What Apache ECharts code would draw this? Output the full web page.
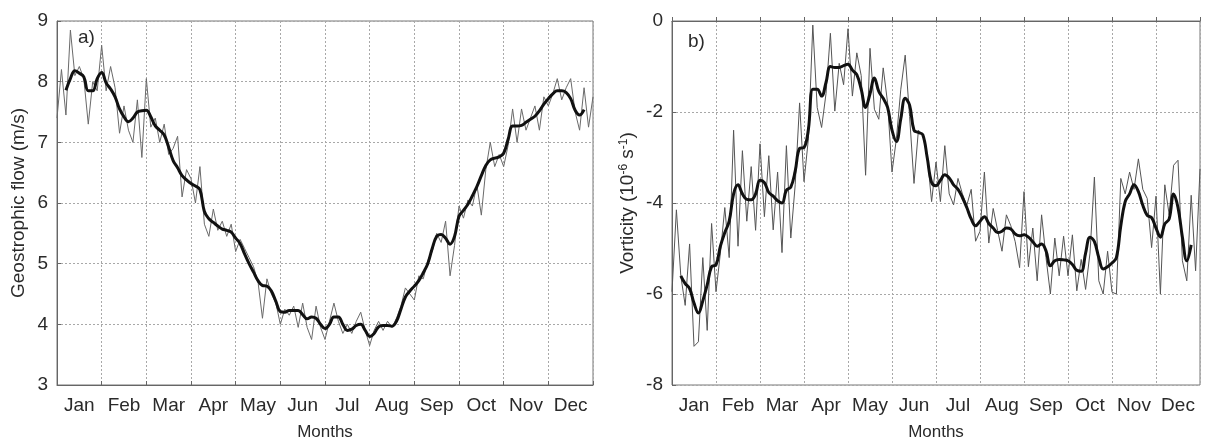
<!DOCTYPE html>
<html><head><meta charset="utf-8">
<script src="https://cdn.jsdelivr.net/npm/echarts@6/dist/echarts.min.js"></script>
<style>html,body{margin:0;padding:0;background:#fff}#c{width:1205px;height:446px}</style>
</head><body><div id="c"></div>
<script>
// ---------- data ----------
const monthLabels = ['Jan','Feb','Mar','Apr','May','Jun','Jul','Aug','Sep','Oct','Nov','Dec'];
const stepMonths = 0.1;           // spacing of the sampled values, in months
const thinStart = 0;              // first sample of the thin (daily) curves, month position
const thickStart = 0.2;           // first sample of the thick (smoothed) curves

// a) Geostrophic flow (m/s)
const flowThin = [
 7.40,8.20,7.45,8.85,8.10,8.25,8.05,7.30,8.00,7.85,
 8.60,7.85,8.25,7.90,7.15,7.60,7.20,7.00,7.70,6.75,
 8.05,7.25,7.40,7.00,7.30,6.80,6.90,7.10,6.10,6.55,
 6.40,6.00,6.60,5.65,5.45,5.90,5.55,5.70,5.45,5.65,
 5.20,5.40,5.25,5.10,4.95,4.70,4.10,4.75,4.50,4.35,
 4.00,4.25,4.15,4.30,3.95,4.35,3.95,3.75,4.30,3.95,
 3.75,4.05,4.35,4.05,3.85,4.00,3.85,4.05,4.20,3.90,
 3.65,3.90,4.05,3.90,4.05,3.95,4.10,4.30,4.60,4.50,
 4.40,4.80,4.75,5.05,5.20,5.50,5.35,5.70,4.80,5.30,
 5.95,5.75,6.05,5.95,6.30,5.80,6.55,7.00,6.60,6.80,
 6.60,6.95,7.55,7.00,7.55,7.20,7.40,7.60,7.20,7.75,
 7.60,7.80,8.05,7.70,7.90,8.05,7.50,7.20,7.90,7.25,
 7.75];
const flowThick = [
 7.86,8.05,8.18,8.14,8.08,7.85,7.85,8.05,8.15,7.98,
 7.88,7.75,7.55,7.42,7.34,7.40,7.50,7.52,7.53,7.42,
 7.27,7.20,7.12,6.92,6.70,6.58,6.45,6.38,6.32,6.28,
 6.22,5.86,5.74,5.68,5.62,5.57,5.55,5.52,5.42,5.33,
 5.16,5.00,4.86,4.72,4.64,4.63,4.55,4.38,4.21,4.20,
 4.23,4.23,4.23,4.16,4.09,4.12,4.10,4.00,3.93,4.00,
 4.12,4.12,4.00,3.90,3.92,3.98,4.00,3.90,3.80,3.85,
 3.96,3.98,3.98,3.97,4.05,4.25,4.45,4.55,4.63,4.72,
 4.85,5.00,5.25,5.45,5.48,5.42,5.32,5.45,5.78,5.88,
 5.98,6.12,6.27,6.45,6.62,6.71,6.74,6.76,6.82,7.05,
 7.27,7.27,7.28,7.33,7.38,7.43,7.52,7.63,7.72,7.80,
 7.85,7.85,7.82,7.72,7.53,7.45,7.54];

// b) Vorticity (10^-6 s^-1)
const vortThin = [
 -5.95,-4.15,-5.60,-6.25,-4.90,-7.15,-7.05,-5.20,-6.80,-4.45,
 -5.95,-5.10,-4.10,-5.20,-2.40,-4.95,-2.85,-4.40,-3.20,-4.60,
 -2.70,-4.30,-2.96,-4.59,-3.32,-5.09,-2.74,-4.77,-3.60,-1.80,
 -3.53,-2.59,-0.09,-1.90,-2.34,-1.60,-0.27,-1.98,-0.93,-1.40,
 -0.17,-1.65,-0.70,-1.20,-3.39,-0.60,-1.94,-2.16,-1.03,-1.80,
 -3.32,-2.59,-1.50,-0.75,-2.10,-3.57,-2.40,-2.50,-2.96,-3.97,
 -3.10,-3.97,-2.74,-3.80,-4.04,-3.46,-3.80,-4.05,-3.70,-4.84,
 -4.62,-3.32,-4.88,-4.12,-4.60,-5.06,-4.26,-4.50,-4.85,-5.42,
 -3.75,-5.40,-4.55,-5.71,-4.26,-5.20,-6.00,-4.77,-5.60,-4.73,
 -5.60,-4.70,-5.93,-5.24,-5.90,-5.10,-3.43,-5.71,-6.00,-5.06,
 -5.96,-6.00,-3.46,-3.80,-3.32,-3.70,-3.03,-3.70,-3.90,-4.98,
 -3.85,-6.00,-3.60,-4.26,-3.17,-3.06,-5.27,-5.71,-3.83,-5.49,
 -3.25];
const vortThick = [
 -5.60,-5.77,-5.88,-6.20,-6.42,-6.15,-5.80,-5.40,-5.36,-4.95,
 -4.65,-4.40,-3.80,-3.60,-3.80,-3.92,-3.93,-3.80,-3.50,-3.55,
 -3.77,-3.85,-3.95,-4.00,-3.72,-3.65,-3.30,-2.80,-2.78,-2.38,
 -1.50,-1.50,-1.65,-1.35,-1.00,-1.02,-1.02,-0.98,-0.95,-1.08,
 -1.18,-1.50,-1.90,-1.60,-1.25,-1.55,-1.70,-1.90,-2.40,-2.65,
 -2.15,-1.70,-1.85,-2.40,-2.45,-2.50,-3.00,-3.55,-3.62,-3.50,
 -3.38,-3.45,-3.60,-3.70,-3.88,-4.10,-4.35,-4.50,-4.40,-4.30,
 -4.45,-4.55,-4.65,-4.62,-4.55,-4.57,-4.68,-4.72,-4.70,-4.75,
 -4.85,-4.95,-4.90,-5.05,-5.38,-5.27,-5.24,-5.25,-5.27,-5.35,
 -5.48,-5.50,-5.10,-4.75,-4.85,-5.20,-5.45,-5.40,-5.32,-5.20,
 -4.50,-3.97,-3.80,-3.60,-3.75,-4.05,-4.27,-4.32,-4.55,-4.75,
 -4.46,-4.35,-3.80,-4.10,-4.75,-5.27,-4.92];

const flowAxis = {min: 3, max: 9, interval: 1};
const vortAxis = {min: -8, max: 0, interval: 2};

// ---------- chart ----------
function pairs(arr, start) {
  return arr.map((v, i) => [Math.round((start + i * stepMonths) * 100) / 100, v]);
}
const FONT = 'Liberation Sans, Arial, sans-serif';
const TXT = '#2a2a2a';
const dotted = {show: true, lineStyle: {color: '#a8a8a8', type: [2, 2], width: 1}};

function valueX(grid) {
  return {
    type: 'value', gridIndex: grid, min: 0, max: 12, interval: 1,
    axisLine: {show: true, lineStyle: {color: '#666'}},
    axisTick: {show: true, inside: true, length: 4, lineStyle: {color: '#666'}},
    axisLabel: {show: false},
    splitLine: dotted,
    name: 'Months', nameLocation: 'middle', nameGap: 39,
    nameTextStyle: {fontFamily: FONT, fontSize: 17, color: TXT}
  };
}
function catX(grid) {
  return {
    type: 'category', gridIndex: grid, data: monthLabels, boundaryGap: true,
    position: 'bottom',
    axisLine: {show: false}, axisTick: {show: false}, splitLine: {show: false},
    axisLabel: {interval: 0, margin: 11, fontFamily: FONT, fontSize: 19, color: TXT}
  };
}
function valueY(grid, ax, name, gap) {
  return {
    type: 'value', gridIndex: grid, min: ax.min, max: ax.max, interval: ax.interval,
    axisLine: {show: true, lineStyle: {color: '#666'}},
    axisTick: {show: true, inside: true, length: 4, lineStyle: {color: '#666'}},
    axisLabel: {margin: 9, fontFamily: FONT, fontSize: 19, color: TXT},
    splitLine: dotted,
    name: name, nameLocation: 'middle', nameGap: gap, nameRotate: 90,
    nameTextStyle: {
      fontFamily: FONT, fontSize: 19, color: TXT,
      rich: {
        n: {fontFamily: FONT, fontSize: 19, color: TXT},
        s: {fontFamily: FONT, fontSize: 12, color: TXT, verticalAlign: 'top', padding: [0, 0, 8, 0]}
      }
    }
  };
}
const thinStyleA = {color: '#6a6a6a', width: 1};
const thinStyleB = {color: '#555', width: 1};
const thickStyle = {color: '#111', width: 3};

const option = {
  animation: false,
  backgroundColor: '#fff',
  grid: [
    {left: 57, top: 21, width: 536, height: 368, show: true, borderColor: '#777', borderWidth: 1, backgroundColor: 'transparent'},
    {left: 672, top: 21, width: 528, height: 368, show: true, borderColor: '#777', borderWidth: 1, backgroundColor: 'transparent'}
  ],
  xAxis: [valueX(0), catX(0), valueX(1), catX(1)],
  yAxis: [
    valueY(0, flowAxis, 'Geostrophic flow (m/s)', 29),
    valueY(1, vortAxis, '{n|Vorticity (10}{s|-6}{n| s}{s|-1}{n|)}', 34)
  ],
  series: [
    {type: 'line', xAxisIndex: 0, yAxisIndex: 0, data: pairs(flowThin, thinStart), showSymbol: false, lineStyle: thinStyleA, z: 2},
    {type: 'line', xAxisIndex: 0, yAxisIndex: 0, data: pairs(flowThick, thickStart), showSymbol: false, smooth: 0.4, lineStyle: thickStyle, z: 3},
    {type: 'line', xAxisIndex: 2, yAxisIndex: 1, data: pairs(vortThin, thinStart), showSymbol: false, lineStyle: thinStyleB, z: 2},
    {type: 'line', xAxisIndex: 2, yAxisIndex: 1, data: pairs(vortThick, thickStart), showSymbol: false, smooth: 0.4, lineStyle: thickStyle, z: 3}
  ],
  graphic: [
    {type: 'text', left: 78, top: 28, style: {text: 'a)', fontFamily: FONT, fontSize: 19, fill: TXT}},
    {type: 'text', left: 688, top: 32, style: {text: 'b)', fontFamily: FONT, fontSize: 19, fill: TXT}}
  ]
};
echarts.init(document.getElementById('c')).setOption(option);
</script>
</body></html>
